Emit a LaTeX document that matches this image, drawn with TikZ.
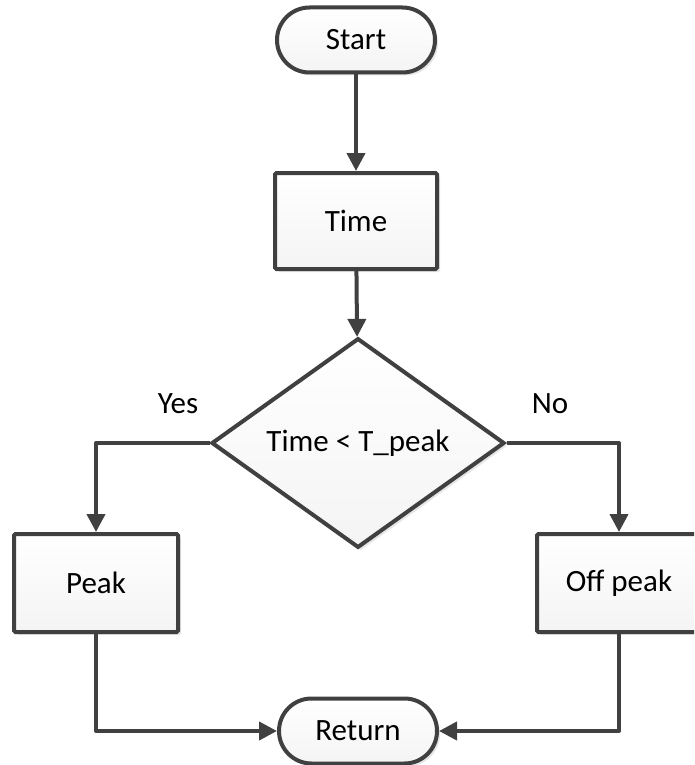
\documentclass[tikz,border=0pt]{standalone}
\usepackage{fontspec}
\setmainfont{Carlito}
\usetikzlibrary{shapes.geometric,shapes.misc,arrows.meta,shadows}
\definecolor{ink}{HTML}{404040}
\definecolor{shade}{HTML}{F4F4F4}
\definecolor{shadowgray}{HTML}{E6E6E6}
\tikzset{
  base/.style={draw=ink, line width=4pt, top color=white, bottom color=shade,
    drop shadow={shadow xshift=3pt, shadow yshift=-3pt, fill=shadowgray, opacity=1},
    font=\fontsize{31}{36}\selectfont, text=black, inner sep=0pt},
  terminal/.style={base, rounded rectangle, minimum width=158pt, minimum height=65pt},
  process/.style={base, rectangle, rounded corners=1.5pt, minimum width=164pt, minimum height=98pt},
  decision/.style={base, diamond, minimum width=293pt, minimum height=165pt},
  flow/.style={draw=ink, line width=4pt, line join=round, -{Triangle[length=18pt,width=18pt]}},
  lbl/.style={font=\fontsize{31}{36}\selectfont, inner sep=0pt}
}
\begin{document}
\begin{tikzpicture}[x=1pt, y=-1pt]
  \path[use as bounding box, clip] (0,0) rectangle (694,765);

  \node[terminal] (start) at (356,40) {Start};
  \node[process, minimum width=162pt, minimum height=96pt] (time) at (356,221) {Time};
  \node[decision] (dec) at (358,443) {Time < T\_peak};
  \node[process] (peak) at (96,583) {Peak};
  \node[process] (off) at (619,583) {Off peak};
  \node[terminal] (ret) at (358,731) {Return};

  \node[lbl] (yes) at (178,404) {Yes};
  \node[lbl] (no) at (550,404) {No};

  \draw[flow] (start) -- (time);
  \draw[flow] (time) -- (dec);
  \draw[flow] (dec.west) -| (peak.north);
  \draw[flow] (dec.east) -| (off.north);
  \draw[flow] (peak.south) |- (ret.west);
  \draw[flow] (off.south) |- (ret.east);
\end{tikzpicture}
\end{document}
